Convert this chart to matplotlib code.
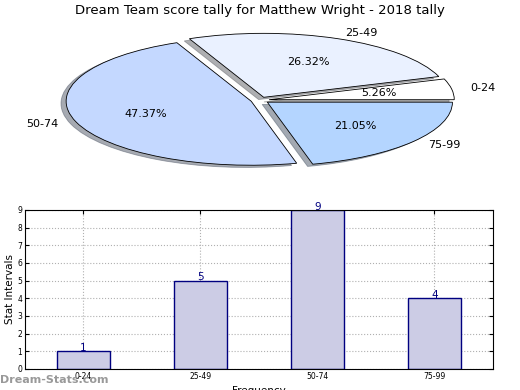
import matplotlib
matplotlib.use('Agg')
from matplotlib import pyplot as plt

# Score brackets and how many games fell into each.
labels = ['0-24', '25-49', '50-74', '75-99']
counts = [1, 5, 9, 4]
pie_colors = ['#ffffff', '#eaf1ff', '#c4d8ff', '#b4d5ff']

fig = plt.figure(figsize=(5.2, 3.9), dpi=100)

# Pie (squashed, not equal aspect).
ax1 = fig.add_axes([0.055, 0.538, 0.89, 0.41])
ax1.pie(counts, labels=labels, colors=pie_colors, autopct='%.2f%%',
        explode=[0.05] * 4,
        shadow={'ox': -0.02, 'oy': -0.025, 'shade': 0.6}, startangle=0,
        wedgeprops={'edgecolor': 'black', 'linewidth': 0.6},
        textprops={'fontsize': 8})
ax1.set_aspect('auto')
ax1.set_xlim(-1.25, 1.25)
ax1.set_ylim(-1.25, 1.25)
fig.text(0.5, 0.972, "Dream Team score tally for Matthew Wright - 2018 tally",
         ha='center', va='center', fontsize=9.5)

# Bars.
ax2 = fig.add_axes([0.048, 0.054, 0.9, 0.408])
x = range(len(labels))
ax2.bar(x, counts, width=0.45, color='#ccccE5', edgecolor='#000080',
        linewidth=1, zorder=2)
for i, c in zip(x, counts):
    ax2.text(i, c - 0.1, str(c), ha='center', va='bottom', color='#000080',
             fontsize=7.5, zorder=3)
ax2.set_xlim(-0.5, 3.5)
ax2.set_ylim(0, 9)
ax2.set_xticks(list(x))
ax2.set_xticklabels(labels)
ax2.set_yticks(range(10))
ax2.tick_params(axis='both', labelsize=5.5, direction='in', length=3,
                top=True, right=True, pad=2)
ax2.grid(True, linestyle=':', color='#b0b0b0', linewidth=0.8, zorder=0)
ax2.set_ylabel('Stat Intervals', fontsize=7.5, labelpad=2)
ax2.set_xlabel('Frequency', fontsize=7.5, labelpad=4)

fig.text(0.0, 0.025, 'Dream-Stats.com', color='#999999', fontsize=8,
         fontweight='bold', ha='left', va='center')

plt.savefig('out.png', dpi=100)
